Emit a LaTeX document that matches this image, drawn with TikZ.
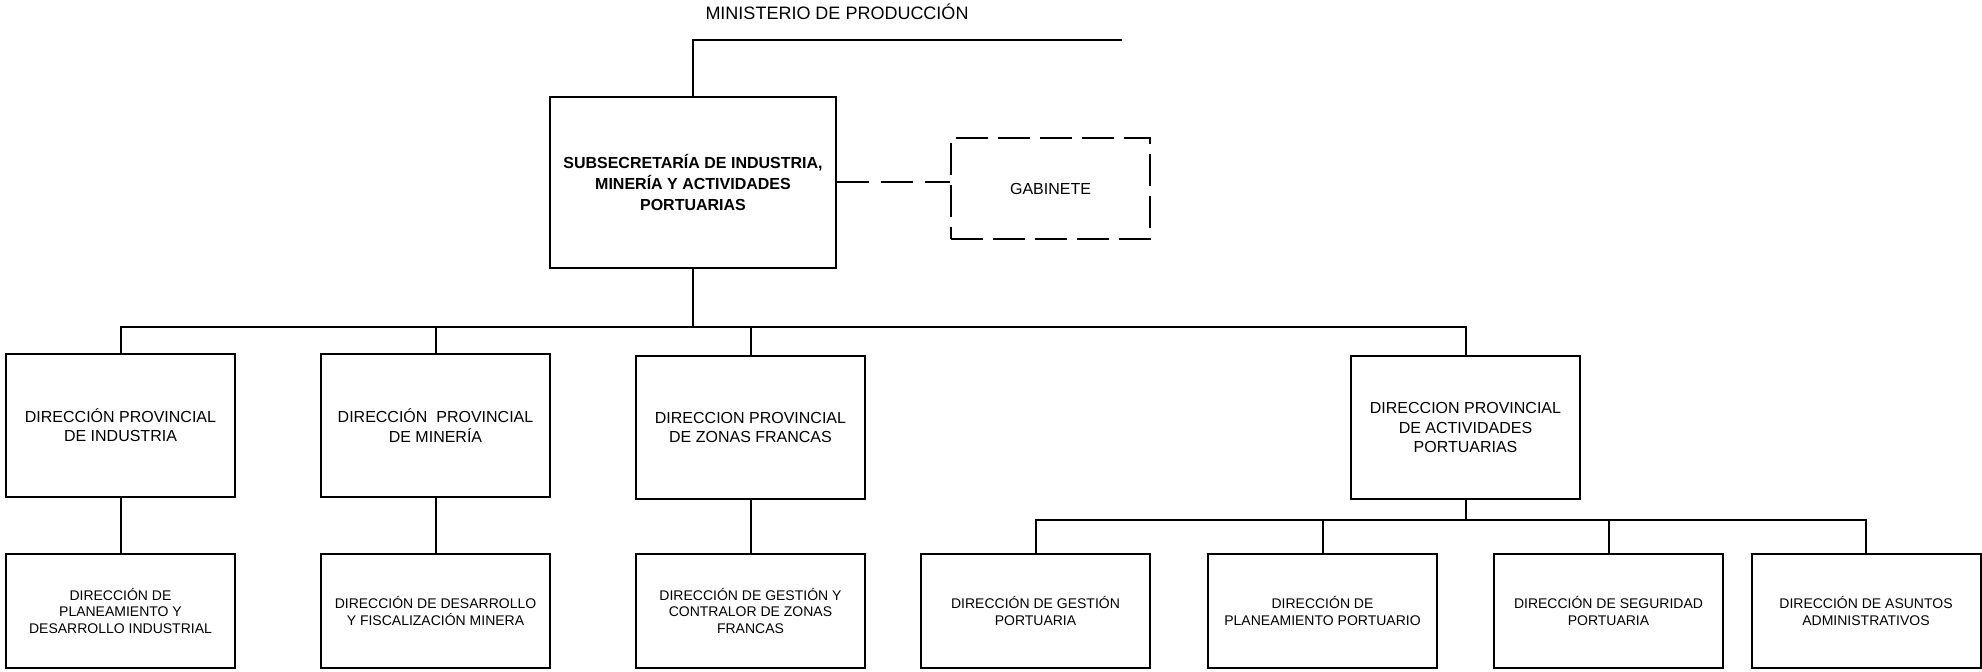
\documentclass[tikz,border=0pt]{standalone}
\usepackage{fontspec}
\setmainfont{Liberation Sans}
\begin{document}
\begin{tikzpicture}[x=0.5pt,y=-0.5pt,line width=1pt,
  unit/.style={draw,inner sep=2pt,align=center,minimum width=114.5pt},
  big/.style={unit,minimum height=71.5pt,font=\fontsize{8}{9.6}\selectfont},
  small/.style={unit,minimum height=57pt,font=\fontsize{7}{8.4}\selectfont},
  dashbox/.style={draw,dash pattern=on 16pt off 5pt,inner sep=2pt,align=center},
  dashline/.style={dash pattern=on 16pt off 6pt}]
\useasboundingbox (0,0) rectangle (1982,672);

\node (title) at (837,12) {\fontsize{9}{11}\selectfont MINISTERIO DE PRODUCCIÓN};

\node[draw,align=center,minimum width=143pt,minimum height=85.5pt,
      font=\fontsize{8}{10.5}\selectfont\bfseries] (sub) at (693,182.5)
  {SUBSECRETARÍA DE INDUSTRIA,\\MINERÍA Y ACTIVIDADES\\PORTUARIAS};
\node[dashbox,minimum width=99.5pt,minimum height=50.5pt,
      font=\fontsize{8}{9.6}\selectfont] (gab) at (1050.5,188.5) {GABINETE};

\node[big] (A) at (120.5,425.5) {DIRECCIÓN PROVINCIAL\\DE INDUSTRIA};
\node[big] (B) at (435.5,425.5) {DIRECCIÓN\ \ PROVINCIAL\\DE MINERÍA};
\node[big] (C) at (750.5,427.5) {DIRECCION PROVINCIAL\\DE ZONAS FRANCAS};
\node[big] (D) at (1465.5,427.5) {DIRECCION PROVINCIAL\\DE ACTIVIDADES\\PORTUARIAS};

\node[small] (A2) at (120.5,611) {DIRECCIÓN DE\\PLANEAMIENTO Y\\DESARROLLO INDUSTRIAL};
\node[small] (B2) at (435.5,611) {DIRECCIÓN DE DESARROLLO\\Y FISCALIZACIÓN MINERA};
\node[small] (C2) at (750.5,611) {DIRECCIÓN DE GESTIÓN Y\\CONTRALOR DE ZONAS\\FRANCAS};

\node[small] (E1) at (1035.5,611) {DIRECCIÓN DE GESTIÓN\\PORTUARIA};
\node[small] (E2) at (1322.5,611) {DIRECCIÓN DE\\PLANEAMIENTO PORTUARIO};
\node[small] (E3) at (1608.5,611) {DIRECCIÓN DE SEGURIDAD\\PORTUARIA};
\node[small] (E4) at (1866,611) {DIRECCIÓN DE ASUNTOS\\ADMINISTRATIVOS};

\coordinate (topcorner) at (693,40);
\coordinate (topend) at (1122,40);
\coordinate (bus) at (0,327);
\coordinate (dbus) at (0,520);

\draw (sub.north) -- (topcorner) -- (topend);
\draw[dashline] (sub.east) -- (gab.west |- sub.east);

\draw (sub.south) -- (sub.south |- bus);
\draw (A.north) -- (A.north |- bus) -- (D.north |- bus) -- (D.north);
\draw (B.north) -- (B.north |- bus);
\draw (C.north) -- (C.north |- bus);

\draw (A.south) -- (A2.north);
\draw (B.south) -- (B2.north);
\draw (C.south) -- (C2.north);

\draw (D.south) -- (D.south |- dbus);
\draw (E1.north) -- (E1.north |- dbus) -- (E4.north |- dbus) -- (E4.north);
\draw (E2.north) -- (E2.north |- dbus);
\draw (E3.north) -- (E3.north |- dbus);
\end{tikzpicture}
\end{document}
